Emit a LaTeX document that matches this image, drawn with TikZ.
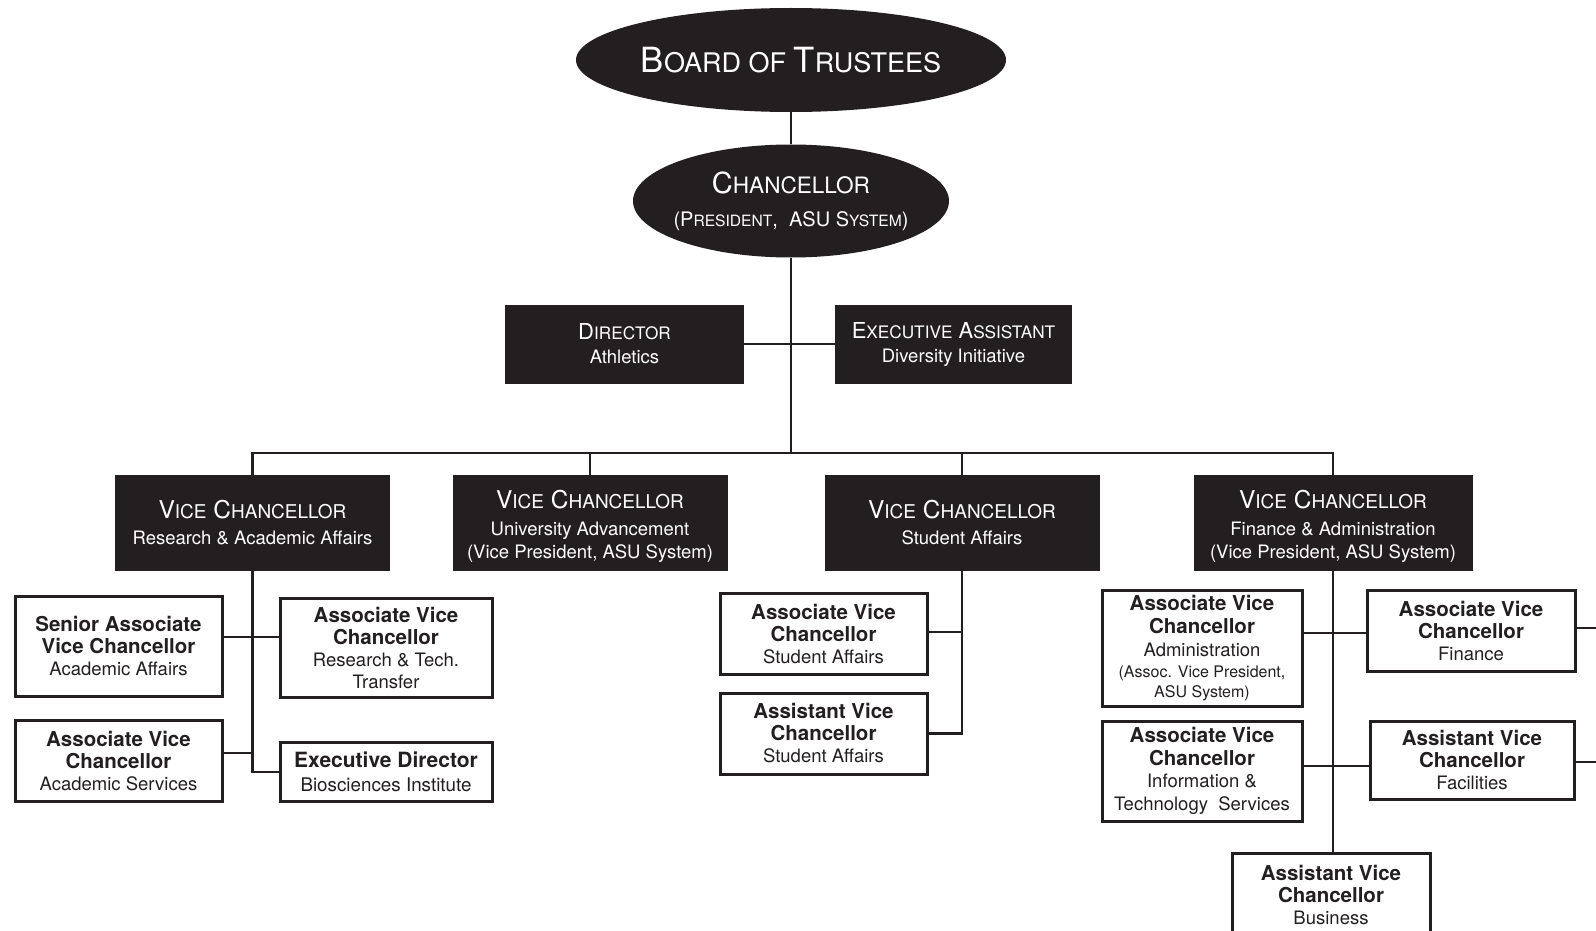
\documentclass[tikz,border=0pt]{standalone}
\usepackage{fontspec}
\setmainfont{TeX Gyre Heros}
\usetikzlibrary{shapes.geometric}
\definecolor{ink}{RGB}{35,31,32}
\newcommand\caps[2]{{\fontsize{#1}{#1}\selectfont #2}}
\newcommand\VCtitle{{\fontsize{24.5}{28}\selectfont V\caps{19}{ICE} C\caps{19}{HANCELLOR}}}
\newcommand\bl[1]{{\fontsize{20.5}{23}\selectfont\bfseries #1}}
\begin{document}
\begin{tikzpicture}[x=1pt,y=-1pt,
  conn/.style={draw=ink,line width=2.2pt},
  thinline/.style={draw=ink,line width=1.2pt},
  oval/.style={ellipse,fill=ink,text=white,inner xsep=-40pt,inner ysep=-10pt,align=center},
  dark/.style={rectangle,fill=ink,text=white,inner sep=0pt,align=center,font=\fontsize{18.5}{23}\selectfont},
  wbox/.style={rectangle,draw=ink,line width=3pt,fill=white,text=ink,inner sep=0pt,align=center,font=\fontsize{18.5}{22}\selectfont}]
\useasboundingbox (0,0) rectangle (1596,931);

% top
\node[oval,minimum width=430pt,minimum height=104pt] (board) at (791,60)
  {\fontsize{34.7}{40}\selectfont B\caps{27}{OARD OF }T\caps{27}{RUSTEES}};
\node[oval,minimum width=316pt,minimum height=113pt,font=\fontsize{20}{33}\selectfont] (chan) at (791,201)
  {{\fontsize{29}{33}\selectfont C\caps{22.6}{HANCELLOR}}\\
   (P\caps{15.6}{RESIDENT},\ \ ASU S\caps{15.6}{YSTEM})};

\node[dark,minimum width=239pt,minimum height=79pt,font=\fontsize{18.5}{24}\selectfont] (dir) at (624.5,344)
  {{\fontsize{22}{24}\selectfont D\caps{17.2}{IRECTOR}}\\Athletics};
\node[dark,minimum width=237pt,minimum height=79pt,font=\fontsize{18.5}{24}\selectfont] (exa) at (953.5,344)
  {{\fontsize{22}{24}\selectfont E\caps{17.2}{XECUTIVE} A\caps{17.2}{SSISTANT}}\\Diversity Initiative};

% vice chancellors
\node[dark,minimum width=275pt,minimum height=96pt] (vc1) at (252.5,523)
  {\VCtitle\\[3pt]Research \& Academic Affairs};
\node[dark,minimum width=275pt,minimum height=96pt,text height=75pt] (vc2) at (590,523)
  {\VCtitle\\[3.5pt]University Advancement\\(Vice President, ASU System)};
\node[dark,minimum width=275pt,minimum height=96pt] (vc3) at (962,523)
  {\VCtitle\\[3pt]Student Affairs};
\node[dark,minimum width=279pt,minimum height=96pt,text height=75pt] (vc4) at (1333,523)
  {\VCtitle\\[3.5pt]Finance \& Administration\\(Vice President, ASU System)};

% left group
\node[wbox,minimum width=207pt,minimum height=100pt] (savc) at (118.5,646)
  {\bl{Senior Associate}\\\bl{Vice Chancellor}\\Academic Affairs};
\node[wbox,minimum width=212pt,minimum height=99pt] (avcr) at (386,647.5)
  {\bl{Associate Vice}\\\bl{Chancellor}\\Research \& Tech.\\Transfer};
\node[wbox,minimum width=207pt,minimum height=81pt] (avcs) at (118.5,761)
  {\bl{Associate Vice}\\\bl{Chancellor}\\Academic Services};
\node[wbox,minimum width=212pt,minimum height=59pt,font=\fontsize{18.8}{24}\selectfont] (exd) at (386,772)
  {{\fontsize{21}{24}\selectfont\bfseries Executive Director}\\Biosciences Institute};

% middle group
\node[wbox,minimum width=207pt,minimum height=81pt] (avcsa) at (823.5,634)
  {\bl{Associate Vice}\\\bl{Chancellor}\\Student Affairs};
\node[wbox,minimum width=207pt,minimum height=81pt] (asvsa) at (823.5,733.5)
  {\bl{Assistant Vice}\\\bl{Chancellor}\\Student Affairs};

% right group
\node[wbox,minimum width=200pt,minimum height=116pt,font=\fontsize{18.5}{23}\selectfont] (avcadm) at (1202,648)
  {\bl{Associate Vice}\\\bl{Chancellor}\\Administration\\[-1.5pt]
   {\fontsize{16}{20}\selectfont (Assoc. Vice President,}\\[-3pt]
   {\fontsize{16}{20}\selectfont ASU System)}};
\node[wbox,minimum width=200pt,minimum height=100pt,font=\fontsize{18.5}{22.5}\selectfont] (avcit) at (1202,771)
  {\bl{Associate Vice}\\\bl{Chancellor}\\Information \&\\Technology\ \ Services};
\node[wbox,minimum width=208pt,minimum height=81pt] (avcfin) at (1471,630.5)
  {\bl{Associate Vice}\\\bl{Chancellor}\\Finance};
\node[wbox,minimum width=204pt,minimum height=78pt] (asvfac) at (1472,760)
  {\bl{Assistant Vice}\\\bl{Chancellor}\\Facilities};
\node[wbox,minimum width=198pt,minimum height=84pt] (busn) at (1331,895)
  {\bl{Assistant Vice}\\\bl{Chancellor}\\Business};

% connectors
\coordinate (bus) at (791,453);
\draw[conn] (board.south) -- (chan.north);
\draw[conn] (chan.south) -- (chan.south |- bus);
\draw[conn] (dir.east) -- (exa.west);
\draw[conn] (vc1.north) -- (vc1.north |- bus) -| (vc4.north);
\draw[conn] (vc2.north) -- (vc2.north |- bus);
\draw[conn] (vc3.north) -- (vc3.north |- bus);

\coordinate (j1) at (252.5,637);
\coordinate (j2) at (252.5,753);
\draw[conn] (vc1.south) |- (exd.west);
\draw[conn] (savc.east |- j1) -- (avcr.west |- j1);
\draw[conn] (avcs.east |- j2) -- (j2);

\coordinate (m1) at (962,632);
\draw[conn] (vc3.south) |- (asvsa.east);
\draw[conn] (avcsa.east |- m1) -- (m1);

\coordinate (r1) at (1333,633);
\coordinate (r2) at (1333,766);
\draw[conn] (vc4.south) -- (vc4.south |- busn.north);
\draw[conn] (avcadm.east |- r1) -- (avcfin.west |- r1);
\draw[conn] (avcit.east |- r2) -- (asvfac.west |- r2);

\coordinate (e1) at (1596,628);
\coordinate (e2) at (1596,762);
\draw[thinline] (avcfin.east |- e1) -- (e1);
\draw[thinline] (asvfac.east |- e2) -- (e2);
\end{tikzpicture}
\end{document}
